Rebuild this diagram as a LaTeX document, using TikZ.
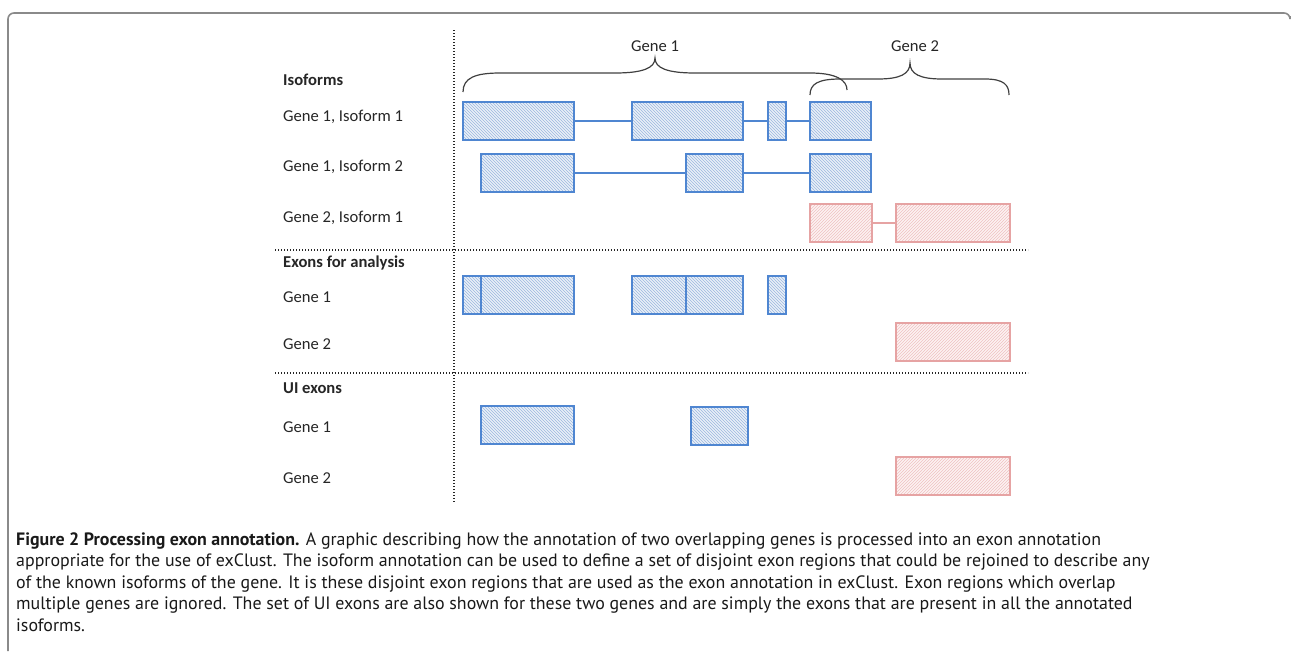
\documentclass[tikz,border=0pt]{standalone}
\usepackage{fontspec}
\setmainfont{Carlito}
\newfontfamily\capfont{PT Sans}
\usetikzlibrary{patterns}
\definecolor{exblue}{HTML}{4F86D1}
\definecolor{exbluefill}{HTML}{EAF0F8}
\definecolor{exbluehatch}{HTML}{9BB7DF}
\definecolor{exred}{HTML}{E6A3A3}
\definecolor{exredfill}{HTML}{FDF3F3}
\definecolor{exredhatch}{HTML}{EFC2C2}
\definecolor{framec}{HTML}{8A8A8A}
\newcommand\exon[6]{\node[#6, minimum width={#4-#2}, minimum height={#5-#3}] (#1) at ({(#2+#4)/2},{(#3+#5)/2}) {};}
\begin{document}
\begin{tikzpicture}[x=1pt,y=-1pt,
  bex/.style={draw=exblue, line width=1.6pt, preaction={fill=exbluefill}, pattern=north west lines, pattern color=exbluehatch, inner sep=0pt, outer sep=0pt},
  rex/.style={draw=exred, line width=1.6pt, preaction={fill=exredfill}, pattern=north east lines, pattern color=exredhatch, inner sep=0pt, outer sep=0pt},
  bintron/.style={draw=exblue, line width=1.6pt},
  rintron/.style={draw=exred, line width=1.6pt},
  divider/.style={draw=black!85, line width=1.7pt, dash pattern=on 1.4pt off 1.6pt},
  lab/.style={anchor=west, font=\fontsize{16.6}{19}\selectfont, text=black!85, inner sep=0pt},
  hdr/.style={lab, font=\fontsize{16.6}{19}\selectfont\bfseries},
  bracec/.style={draw=black!75, line width=1.2pt},
  capl/.style={anchor=base west, inner sep=0pt, font=\capfont\fontsize{17.9}{21}\selectfont, text=black!90}]
\useasboundingbox (0,0) rectangle (1292,651);
% frame
\draw[framec, line width=1.6pt, rounded corners=6pt] (8,651) -- (8,13) -- (1290,13) -- (1290,16);
% dividers
\draw[divider] (454,30) -- (454,503);
\draw[divider] (275,250) -- (1028,250);
\draw[divider] (275,373) -- (1028,373);
% labels
\node[hdr] (hIso) at (283,80) {Isoforms};
\node[lab] (lG1I1) at (283,117) {Gene 1, Isoform 1};
\node[lab] (lG1I2) at (283,167) {Gene 1, Isoform 2};
\node[lab] (lG2I1) at (283,218) {Gene 2, Isoform 1};
\node[hdr] (hEx) at (283,263) {Exons for analysis};
\node[lab] (lEG1) at (283,297) {Gene 1};
\node[lab] (lEG2) at (283,344) {Gene 2};
\node[hdr] (hUI) at (283,388) {UI exons};
\node[lab] (lUG1) at (283,427) {Gene 1};
\node[lab] (lUG2) at (283,478) {Gene 2};
% braces
\draw[bracec] (463,92) .. controls (463,78) and (475,73) .. (500,73) -- (615,73)
  .. controls (643,73) and (655,68) .. (655,58) .. controls (655,68) and (667,73) .. (695,73)
  -- (810,73) .. controls (836,73) and (847,80) .. (847,90);
\node[lab, anchor=center] (tG1) at (655,46) {Gene 1};
\draw[bracec] (810,95) .. controls (810,84) and (818,79) .. (840,79) -- (878,79)
  .. controls (900,79) and (910,74) .. (910,63) .. controls (910,74) and (920,79) .. (942,79)
  -- (985,79) .. controls (1004,79) and (1009,85) .. (1009,95);
\node[lab, anchor=center] (tG2) at (915,46) {Gene 2};
% isoform rows
\exon{a1}{463}{102}{574}{140}{bex}
\exon{a2}{632}{102}{743}{140}{bex}
\exon{a3}{768}{102}{786}{140}{bex}
\exon{a4}{810}{102}{871}{140}{bex}
\draw[bintron] (a1.east) -- (a2.west);
\draw[bintron] (a2.east) -- (a3.west);
\draw[bintron] (a3.east) -- (a4.west);
\exon{b1}{481}{154}{574}{192}{bex}
\exon{b2}{686}{154}{743}{192}{bex}
\exon{b3}{810}{154}{871}{192}{bex}
\draw[bintron] (b1.east) -- (b2.west);
\draw[bintron] (b2.east) -- (b3.west);
\exon{c1}{810}{204}{872}{242}{rex}
\exon{c2}{896}{204}{1010}{242}{rex}
\draw[rintron] (c1.east) -- (c2.west);
% exons for analysis
\exon{d1}{463}{276}{481}{314}{bex}
\exon{d2}{481}{276}{574}{314}{bex}
\exon{d3}{632}{276}{686}{314}{bex}
\exon{d4}{686}{276}{743}{314}{bex}
\exon{d5}{768}{276}{786}{314}{bex}
\exon{e1}{896}{323}{1010}{361}{rex}
% UI exons
\exon{f1}{481}{406}{574}{444}{bex}
\exon{f2}{691}{407}{748}{445}{bex}
\exon{g1}{896}{457}{1010}{495}{rex}
% caption
\node[capl] (cap1) at (16,545) {\textbf{Figure 2 Processing exon annotation.} A graphic describing how the annotation of two overlapping genes is processed into an exon annotation};
\node[capl] (cap2) at (16,566.5) {appropriate for the use of exClust. The isoform annotation can be used to define a set of disjoint exon regions that could be rejoined to describe any};
\node[capl] (cap3) at (16,588) {of the known isoforms of the gene. It is these disjoint exon regions that are used as the exon annotation in exClust. Exon regions which overlap};
\node[capl] (cap4) at (16,609.5) {multiple genes are ignored. The set of UI exons are also shown for these two genes and are simply the exons that are present in all the annotated};
\node[capl] (cap5) at (16,631) {isoforms.};
\end{tikzpicture}
\end{document}
